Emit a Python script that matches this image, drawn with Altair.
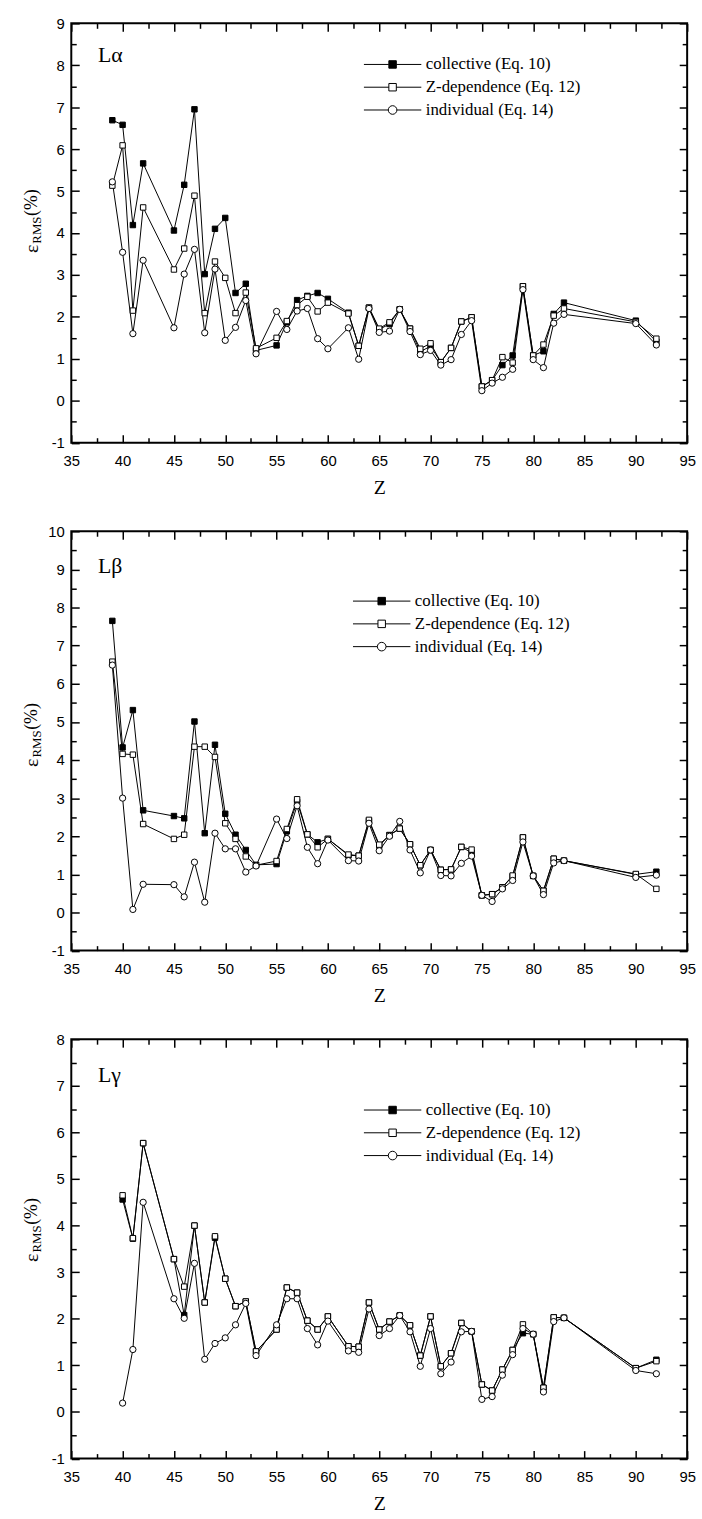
import altair as alt
import pandas as pd

SERIES = ["collective (Eq. 10)", "Z-dependence (Eq. 12)", "individual (Eq. 14)"]
PANEL_LABELS = ["L\u03b1", "L\u03b2", "L\u03b3"]

# ---------------- L-alpha ----------------
Z_A = [39, 40, 41, 42, 45, 46, 47, 48, 49, 50, 51, 52, 53, 55, 56, 57, 58, 59, 60, 62,
       63, 64, 65, 66, 67, 68, 69, 70, 71, 72, 73, 74, 75, 76, 77, 78, 79, 80, 81, 82,
       83, 90, 92]
LA_COLL = [6.69, 6.58, 4.19, 5.66, 4.06, 5.15, 6.95, 3.02, 4.10, 4.36, 2.57, 2.79, 1.20,
           1.32, 1.87, 2.40, 2.50, 2.57, 2.43, 2.10, 1.31, 2.22, 1.70, 1.83, 2.18, 1.72,
           1.17, 1.30, 0.92, 1.26, 1.89, 1.99, 0.34, 0.49, 0.85, 1.08, 2.73, 1.08, 1.18,
           2.07, 2.34, 1.91, 1.41]
LA_ZDEP = [5.13, 6.09, 2.15, 4.61, 3.13, 3.63, 4.89, 2.09, 3.32, 2.93, 2.09, 2.58, 1.25,
           1.50, 1.90, 2.28, 2.48, 2.13, 2.34, 2.08, 1.31, 2.22, 1.72, 1.87, 2.18, 1.72,
           1.24, 1.37, 0.92, 1.26, 1.89, 1.99, 0.34, 0.49, 1.04, 0.91, 2.73, 1.08, 1.34,
           2.03, 2.20, 1.88, 1.48]
LA_IND = [5.22, 3.54, 1.60, 3.35, 1.74, 3.02, 3.61, 1.62, 3.14, 1.44, 1.75, 2.39, 1.12,
          2.13, 1.70, 2.14, 2.20, 1.48, 1.24, 1.74, 0.99, 2.20, 1.63, 1.66, 2.18, 1.65,
          1.10, 1.20, 0.85, 0.98, 1.58, 1.91, 0.24, 0.42, 0.56, 0.75, 2.65, 0.98, 0.79,
          1.85, 2.06, 1.84, 1.33]

# ---------------- L-beta ----------------
Z_B = [39, 40, 41, 42, 45, 46, 47, 48, 49, 50, 51, 52, 53, 55, 56, 57, 58, 59, 60, 62,
       63, 64, 65, 66, 67, 68, 69, 70, 71, 72, 73, 74, 75, 76, 77, 78, 79, 80, 81, 82,
       83, 90, 92]
LB_COLL = [7.65, 4.33, 5.31, 2.68, 2.53, 2.47, 5.01, 2.08, 4.40, 2.59, 2.04, 1.64, 1.25,
           1.27, 2.13, 2.90, 2.05, 1.84, 1.93, 1.50, 1.49, 2.40, 1.75, 2.03, 2.20, 1.79,
           1.24, 1.64, 1.12, 1.13, 1.72, 1.57, 0.45, 0.48, 0.66, 0.95, 1.97, 0.96, 0.57,
           1.41, 1.36, 1.00, 1.07]
LB_ZDEP = [6.58, 4.16, 4.14, 2.32, 1.93, 2.04, 4.35, 4.35, 4.08, 2.34, 1.93, 1.47, 1.24,
           1.35, 2.19, 2.97, 2.05, 1.71, 1.93, 1.52, 1.49, 2.43, 1.78, 2.03, 2.20, 1.79,
           1.24, 1.64, 1.12, 1.13, 1.72, 1.65, 0.45, 0.48, 0.66, 0.97, 1.97, 0.96, 0.57,
           1.41, 1.36, 1.01, 0.62]
LB_IND = [6.49, 3.00, 0.08, 0.74, 0.73, 0.41, 1.32, 0.27, 2.08, 1.67, 1.67, 1.06, 1.22,
          2.45, 1.94, 2.80, 1.71, 1.28, 1.90, 1.36, 1.35, 2.34, 1.62, 2.00, 2.39, 1.64,
          1.04, 1.64, 0.97, 0.96, 1.29, 1.48, 0.45, 0.29, 0.62, 0.84, 1.85, 0.96, 0.47,
          1.30, 1.36, 0.92, 0.98]

# ---------------- L-gamma ----------------
Z_G = [40, 41, 42, 45, 46, 47, 48, 49, 50, 51, 52, 53, 55, 56, 57, 58, 59, 60, 62, 63,
       64, 65, 66, 67, 68, 69, 70, 71, 72, 73, 74, 75, 76, 77, 78, 79, 80, 81, 82, 83,
       90, 92]
LG_COLL = [4.56, 3.72, 5.77, 3.28, 2.08, 4.00, 2.35, 3.74, 2.86, 2.27, 2.37, 1.30, 1.77,
           2.67, 2.56, 1.96, 1.77, 2.05, 1.41, 1.40, 2.35, 1.77, 1.94, 2.07, 1.86, 1.21,
           2.05, 0.98, 1.26, 1.91, 1.73, 0.59, 0.46, 0.91, 1.33, 1.69, 1.67, 0.52, 2.03,
           2.02, 0.94, 1.12]
LG_ZDEP = [4.65, 3.73, 5.77, 3.28, 2.69, 4.00, 2.35, 3.77, 2.86, 2.27, 2.37, 1.30, 1.77,
           2.67, 2.56, 1.96, 1.77, 2.05, 1.41, 1.40, 2.35, 1.77, 1.94, 2.07, 1.86, 1.21,
           2.05, 0.98, 1.26, 1.91, 1.73, 0.59, 0.46, 0.91, 1.33, 1.88, 1.67, 0.52, 2.03,
           2.02, 0.94, 1.09]
LG_IND = [0.19, 1.34, 4.50, 2.43, 2.01, 3.19, 1.13, 1.47, 1.59, 1.87, 2.33, 1.21, 1.87,
          2.43, 2.43, 1.79, 1.44, 1.95, 1.31, 1.28, 2.21, 1.64, 1.79, 2.07, 1.72, 0.98,
          1.79, 0.82, 1.07, 1.72, 1.73, 0.27, 0.33, 0.79, 1.23, 1.79, 1.67, 0.43, 1.94,
          2.02, 0.89, 0.82]

X_MAJOR = [35, 40, 45, 50, 55, 60, 65, 70, 75, 80, 85, 90, 95]
X_MINOR = [37.5, 42.5, 47.5, 52.5, 57.5, 62.5, 67.5, 72.5, 77.5, 82.5, 87.5, 92.5]

PLOT_W = 622
PLOT_H = 423.5
MAJ, MIN = 8, 5

SERIF = "Liberation Serif"
SANS = "Liberation Sans"

LEG_SHAPES = [
    "M-1,0H-0.13M0.13,0H1M-0.13,-0.13H0.13V0.13H-0.13Z",
    "M-1,0H-0.13M0.13,0H1M-0.13,-0.13H0.13V0.13H-0.13Z",
    "M-1,0H-0.15M0.15,0H1M-0.15,0A0.15,0.15,0,1,1,0.15,0A0.15,0.15,0,1,1,-0.15,0Z",
]
LEG_FILLS = ["black", "white", "white"]
LEG_STROKES = ["black", "black", "black"]


def long_df(z, a, b, c):
    rows = []
    for s, vals in zip(SERIES, (a, b, c)):
        for zz, v in zip(z, vals):
            rows.append({"Z": zz, "value": v, "series": s})
    return pd.DataFrame(rows)


def tick_axis(orient, values, size, **kw):
    """Axis drawn inward: shifted inside by its tick length, ticks pointing out to the frame."""
    opts = dict(orient=orient, values=values, grid=False, domain=False,
                tickSize=size, offset=-size, tickColor="black", tickWidth=1.5,
                labelFlush=False, labelOverlap=False, zindex=2, title=None,
                labels=False)
    opts.update(kw)
    return alt.Axis(**opts)


def panel(df, ymin, ymax, label, leg_x, leg_y, lab_y, ytitle_cy):
    xs = alt.Scale(domain=[35, 95], nice=False, zero=False)
    ys = alt.Scale(domain=[ymin, ymax], nice=False, zero=False)
    y_major = list(range(ymin, ymax + 1))
    y_minor = [v + 0.5 for v in range(ymin, ymax)]

    x_main = alt.X("Z:Q", scale=xs, axis=tick_axis(
        "bottom", X_MAJOR, MAJ, labels=True, labelExpr="'' + datum.value",
        labelPadding=11, labelFont=SANS, labelFontSize=15, labelColor="black",
        title="Z", titleFont=SERIF, titleFontSize=20, titleFontWeight="normal",
        titleColor="black", titlePadding=9))
    y_main = alt.Y("value:Q", scale=ys, axis=tick_axis(
        "left", y_major, MAJ, labels=True, labelExpr="'' + datum.value",
        labelPadding=7, labelFont=SANS, labelFontSize=15, labelColor="black"))

    base = alt.Chart(df)
    empty = base.transform_filter(alt.datum.series == "none")

    lines = base.mark_line(color="black", strokeWidth=1).encode(
        x=x_main, y=y_main, detail="series:N")
    p_coll = base.transform_filter(alt.datum.series == SERIES[0]).mark_point(
        shape="square", filled=True, fill="black", stroke="black", strokeWidth=1,
        size=30, opacity=1).encode(x=x_main, y=y_main)
    p_zdep = base.transform_filter(alt.datum.series == SERIES[1]).mark_point(
        shape="square", filled=True, fill="white", stroke="black", strokeWidth=1,
        size=30, opacity=1).encode(x=x_main, y=y_main)
    p_ind = base.transform_filter(alt.datum.series == SERIES[2]).mark_point(
        shape="circle", filled=True, fill="white", stroke="black", strokeWidth=1,
        size=40, opacity=1).encode(x=x_main, y=y_main)

    leg = alt.Legend(orient="none", legendX=leg_x, legendY=leg_y, title=None,
                     symbolSize=3364, clipHeight=23, rowPadding=0, padding=0,
                     labelFont=SERIF, labelFontSize=17, labelColor="black",
                     labelOffset=4, symbolStrokeColor="black",
                     symbolStrokeWidth=1, symbolOpacity=1, labelLimit=300)
    legend_layer = empty.mark_point(filled=True, strokeWidth=1, opacity=1).encode(
        x=x_main, y=y_main,
        shape=alt.Shape("series:N", scale=alt.Scale(domain=SERIES, range=LEG_SHAPES),
                        legend=leg),
        fill=alt.Fill("series:N", scale=alt.Scale(domain=SERIES, range=LEG_FILLS),
                      legend=leg),
        stroke=alt.Stroke("series:N",
                          scale=alt.Scale(domain=SERIES, range=LEG_STROKES),
                          legend=leg),
    )

    lab = alt.Chart(pd.DataFrame({"t": [label]})).mark_text(
        font=SERIF, fontSize=22, align="left", baseline="alphabetic",
        color="black").encode(text="t:N", x=alt.value(27), y=alt.value(lab_y))

    # y-axis title: epsilon with subscript RMS, then (%)
    w_eps, w_rms = 9.5, 28
    y0 = ytitle_cy + 32
    t_eps = alt.Chart(pd.DataFrame({"t": ["\u03b5"]})).mark_text(
        font=SERIF, fontSize=20, align="left", baseline="middle", angle=270,
        color="black").encode(text="t:N", x=alt.value(-40), y=alt.value(y0))
    t_rms = alt.Chart(pd.DataFrame({"t": ["RMS"]})).mark_text(
        font=SERIF, fontSize=13, align="left", baseline="middle", angle=270,
        color="black", dy=5).encode(text="t:N", x=alt.value(-40),
                                    y=alt.value(y0 - w_eps))
    t_pct = alt.Chart(pd.DataFrame({"t": ["(%)"]})).mark_text(
        font=SERIF, fontSize=18, align="left", baseline="middle", angle=270,
        color="black").encode(text="t:N", x=alt.value(-40),
                              y=alt.value(y0 - w_eps - w_rms))

    inner = alt.layer(lines, p_coll, p_zdep, p_ind, legend_layer, lab,
                      t_eps, t_rms, t_pct)

    minor_bl = empty.mark_point(opacity=0).encode(
        x=alt.X("Z:Q", scale=xs, axis=tick_axis("bottom", X_MINOR, MIN)),
        y=alt.Y("value:Q", scale=ys, axis=tick_axis("left", y_minor, MIN)))
    major_tr = empty.mark_point(opacity=0).encode(
        x=alt.X("Z:Q", scale=xs, axis=tick_axis("top", X_MAJOR, MAJ)),
        y=alt.Y("value:Q", scale=ys, axis=tick_axis("right", y_major, MAJ)))
    minor_tr = empty.mark_point(opacity=0).encode(
        x=alt.X("Z:Q", scale=xs, axis=tick_axis("top", X_MINOR, MIN)),
        y=alt.Y("value:Q", scale=ys, axis=tick_axis("right", y_minor, MIN)))

    return alt.layer(inner, minor_bl, major_tr, minor_tr).resolve_axis(
        x="independent", y="independent").properties(width=PLOT_W, height=PLOT_H)


df_a = long_df(Z_A, LA_COLL, LA_ZDEP, LA_IND)
df_b = long_df(Z_B, LB_COLL, LB_ZDEP, LB_IND)
df_g = long_df(Z_G, LG_COLL, LG_ZDEP, LG_IND)

p1 = panel(df_a, -1, 9, PANEL_LABELS[0], 295, 30, 39, 200)
p2 = panel(df_b, -1, 10, PANEL_LABELS[1], 284, 59, 42, 206)
p3 = panel(df_g, -1, 8, PANEL_LABELS[2], 295, 60, 43, 193)

chart = alt.vconcat(p1, p2, p3, spacing=25).resolve_scale(
    x="independent", y="independent", shape="independent", fill="independent",
    stroke="independent"
).resolve_legend(shape="independent", fill="independent",
                 stroke="independent").properties(
    padding={"left": 21, "top": 8, "right": 5, "bottom": 0}
).configure_view(stroke="black", strokeWidth=2)

chart.save("out.html", embed_options={"renderer": "svg", "actions": False})
